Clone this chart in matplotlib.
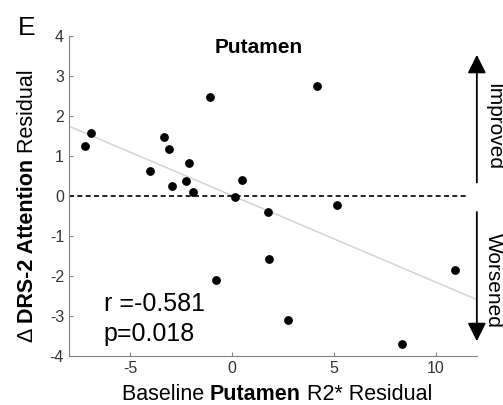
import matplotlib
matplotlib.use("Agg")
import matplotlib.pyplot as plt
import numpy as np

plt.rcParams['font.family'] = ['Liberation Sans', 'DejaVu Sans']
plt.rcParams['axes.unicode_minus'] = False

# residuals
r2_resid = [-7.19, -6.93, -4.00, -3.33, -3.10, -2.93, -2.13, -2.24, -1.90, -1.10,
            0.15, 0.47, 4.18, 1.75, 5.14, 1.82, 10.93, 2.73, 8.32, -0.80]
attn_resid = [1.25, 1.57, 0.63, 1.48, 1.18, 0.25, 0.83, 0.37, 0.10, 2.48,
              -0.02, 0.39, 2.74, -0.41, -0.22, -1.58, -1.86, -3.09, -3.70, -2.11]
r_text = "r =-0.581"
p_text = "p=0.018"
region = "Putamen"

x = np.array(r2_resid)
y = np.array(attn_resid)

fig = plt.figure(figsize=(5.03, 4.05), dpi=100)
ax = fig.add_axes([0.137, 0.121, 0.811, 0.79])

# fit line
k, b = np.polyfit(x, y, 1)
xx = np.array([-8, 12])
ax.plot(xx, k*xx + b, color='#d0d0d0', lw=1, zorder=1)

ax.plot([-8, 11.6], [0, 0], 'k--', lw=1.2, dashes=(3, 2), zorder=2)
ax.scatter(x, y, s=28, color='k', zorder=3)

ax.set_xlim(-8, 12)
ax.set_ylim(-4, 4)
ax.set_xticks([-5, 0, 5, 10])
ax.set_yticks([-4, -3, -2, -1, 0, 1, 2, 3, 4])
for s in ['top', 'right']:
    ax.spines[s].set_visible(False)
for s in ['left', 'bottom']:
    ax.spines[s].set_color('#808080')
ax.tick_params(direction='in', length=3, color='#808080', labelcolor='#333333', labelsize=11.5)

ax.text(1.28, 3.72, region, fontsize=15, fontweight='bold', ha='center', va='center')
ax.text(-6.3, -2.7, r_text, fontsize=18, ha='left', va='center')
ax.text(-6.3, -3.45, p_text, fontsize=18, ha='left', va='center')

# improved / worsened arrows
arr = dict(arrowstyle='-|>,head_length=0.8,head_width=0.4', mutation_scale=14, lw=1.3, color='k')
ax.annotate('', xy=(12, 3.6), xytext=(12, 0.27), arrowprops=arr, annotation_clip=False)
ax.annotate('', xy=(12, -3.7), xytext=(12, -0.33), arrowprops=arr, annotation_clip=False)
ax.text(12.83, 1.75, 'Improved', rotation=-90, fontsize=15, ha='center', va='center', clip_on=False)
ax.text(12.83, -2.12, 'Worsened', rotation=-90, fontsize=15, ha='center', va='center', clip_on=False)

fig.text(0.036, 0.9136, 'E', fontsize=19, ha='left', va='baseline')

# x label in pieces (mixed bold)
t1 = fig.text(0.2425, 5/405, 'Baseline ', fontsize=15.5, ha='left', va='baseline')
t2 = ax.annotate('Putamen', xy=(1, 0), xycoords=t1, fontsize=15.5, fontweight='bold', ha='left', va='bottom')
t3 = ax.annotate(' R2* Residual', xy=(1, 0), xycoords=t2, fontsize=15.5, ha='left', va='bottom')

# y label in pieces
u1 = fig.text(0.0537, 0.1556, '\u0394 ', fontsize=15.5, rotation=90, ha='center', va='bottom')
u2 = ax.annotate('DRS-2 Attention', xy=(0.5, 1), xycoords=u1, fontsize=15.5, fontweight='bold',
                 rotation=90, ha='center', va='bottom')
u3 = ax.annotate(' Residual', xy=(0.5, 1), xycoords=u2, fontsize=15.5, rotation=90, ha='center', va='bottom')

fig.savefig('out.png', dpi=100)
